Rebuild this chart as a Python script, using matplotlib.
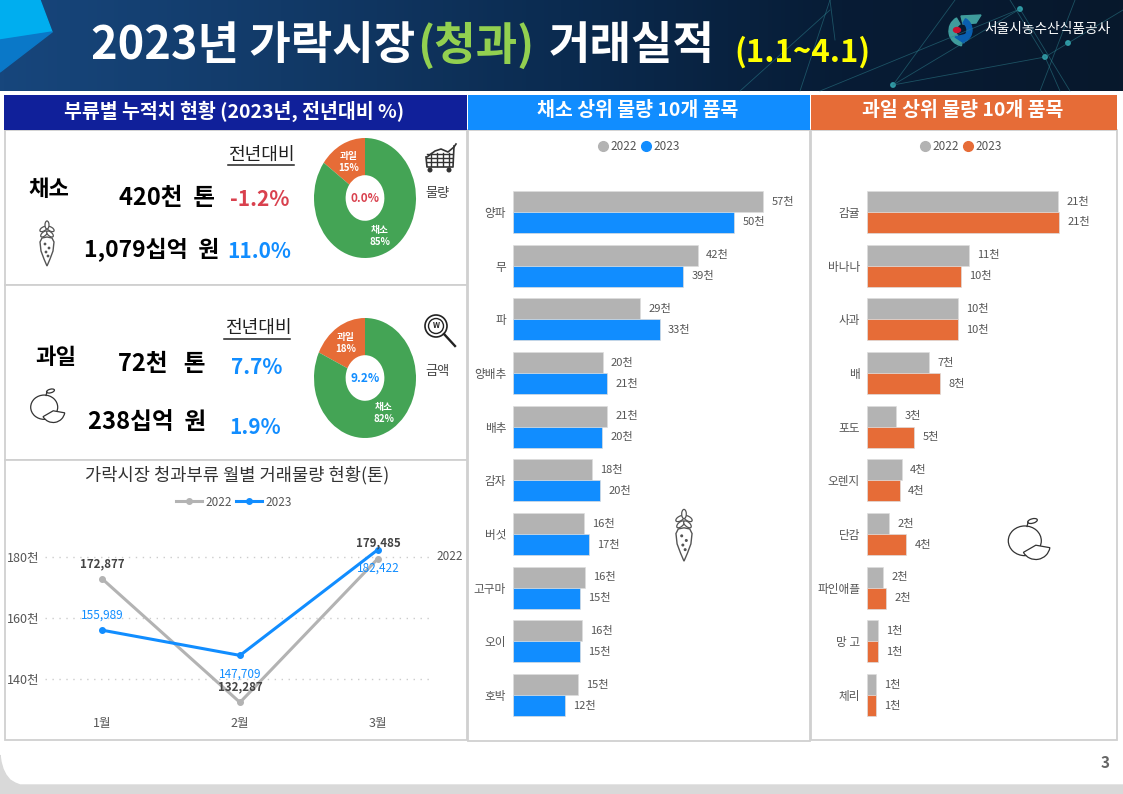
import numpy as np
import matplotlib
matplotlib.use("Agg")
import matplotlib.pyplot as plt
from matplotlib.colors import LinearSegmentedColormap
from matplotlib.lines import Line2D
from matplotlib.patches import Circle, Ellipse, Polygon, Rectangle, Wedge

plt.rcParams['font.family'] = ['Noto Sans CJK KR', 'DejaVu Sans']

# bar data (thousand tons)
veg_names = ["양파", "무", "파", "양배추", "배추", "감자", "버섯", "고구마", "오이", "호박"]
veg_2022 = [57.0, 42.1, 28.9, 20.4, 21.4, 18.0, 16.2, 16.4, 15.7, 14.8]
veg_2023 = [50.3, 38.7, 33.4, 21.4, 20.3, 19.8, 17.3, 15.3, 15.3, 11.8]

fruit_names = ["감귤", "바나나", "사과", "배", "포도", "오렌지", "단감", "파인애플", "망 고", "체리"]
fruit_2022 = [21.0, 11.2, 10.0, 6.8, 3.2, 3.8, 2.4, 1.8, 1.2, 1.0]
fruit_2023 = [21.1, 10.3, 10.0, 8.0, 5.2, 3.6, 4.3, 2.1, 1.2, 1.0]

# monthly volume (tons)
months = ["1월", "2월", "3월"]
line_2022 = [172877, 132287, 179485]
line_2023 = [155989, 147709, 182422]
y_ticks = [140000, 160000, 180000]

# donut shares
donut_labels = ["과일", "채소"]
volume_share = [15, 85]
amount_share = [18, 82]

GRAY = "#b3b3b3"
BLUE = "#118dff"
ORANGE = "#e66c37"
GREEN = "#44a455"
RED = "#d9414e"
NAVY = "#10209a"
TXT = "#555555"

W, H = 1123, 794
fig = plt.figure(figsize=(W / 100, H / 100), dpi=100, facecolor="white")


def px_axes(left, top, right, bottom):
    # axes placed by pixel box, y counted from the top of the image
    ax = fig.add_axes([left / W, 1 - bottom / H, (right - left) / W, (bottom - top) / H])
    ax.patch.set_alpha(0)
    return ax


bg = fig.add_axes([0, 0, 1, 1], zorder=0)
bg.set_axis_off()

# header band
header_cm = LinearSegmentedColormap.from_list("hdr", ["#17467c", "#123a68", "#0b2b50", "#071c35", "#08182c"])
bg.imshow(np.linspace(0, 1, 256).reshape(1, -1), extent=[0, W, 91, 0], cmap=header_cm, aspect="auto")
bg.set_xlim(0, W)
bg.set_ylim(H, 0)

# network lines behind the logo
net = [((893, 85), (1045, 57)), ((893, 85), (1020, 9)), ((893, 85), (955, 0)), ((1045, 57), (1123, 10)),
       ((1045, 57), (1010, 0)), ((1045, 57), (1060, 91)), ((820, 91), (1020, 9)), ((1020, 9), (1070, 91)),
       ((830, 0), (800, 91)), ((1075, 0), (1040, 91)), ((830, 0), (835, 40)), ((740, 91), (830, 10))]
for a, b in net:
    bg.add_line(Line2D([a[0], b[0]], [a[1], b[1]], color="#2d7f8c", lw=0.6, alpha=0.55))
for x, y in [(893, 85), (1045, 57), (1020, 9), (1068, 43)]:
    bg.add_patch(Circle((x, y), 2.2, color="#2f9aa5"))

# corner shapes
bg.add_patch(Polygon([(0, 0), (40, 0), (52, 32), (0, 40)], color="#00aeef"))
bg.add_patch(Polygon([(0, 40), (52, 32), (0, 72)], color="#0a78c8"))

# title
tkw = dict(va="center", ha="left", fontweight="bold", fontsize=32.5)
bg.text(91, 46, "2023년 가락시장", color="white", **tkw)
bg.text(417, 46, "(청과)", color="#92d050", **tkw)
bg.text(549, 46, "거래실적", color="white", **tkw)
bg.text(734, 52, "(1.1~4.1)", color="#ffff00", va="center", ha="left", fontweight="bold", fontsize=22.5)

# logo
bg.add_patch(Wedge((964, 31), 15, 100, 240, width=7, color="#3f9c9c"))
bg.add_patch(Polygon([(961, 16), (981, 15), (976, 23), (963, 24)], color="#3f9c9c"))
bg.add_patch(Wedge((959, 30), 13, 300, 60, width=5, color="#0a5fb0"))
bg.add_patch(Polygon([(955, 37), (968, 34), (964, 43)], color="#0a5fb0"))
bg.add_patch(Ellipse((957, 30), 7, 5, color="#c8102e"))
bg.text(984, 29, "서울시농수산식품공사", color="white", fontsize=9.9, va="center", ha="left")

# bottom strip with the rounded white corner
curve_x = [0, 1, 3, 6, 10, 15, 20, 27, 40]
curve_y = [755, 762, 769, 775, 780, 783, 785, 785, 785]
bg.add_patch(Polygon(list(zip(curve_x, curve_y)) + [(W, 785), (W, H), (0, H)], color="#d9d9d9"))
bg.text(1105, 763, "3", color="#666666", fontsize=11, fontweight="bold", ha="center", va="center")

# panels
for l, t, r, b in [(5, 130, 467, 285), (5, 285, 467, 460), (5, 460, 467, 740),
                   (468, 130, 810, 741), (811, 130, 1117, 740)]:
    bg.add_patch(Rectangle((l, t), r - l, b - t, fc="white", ec="#d0d0d0", lw=1.3))
for l, r, c, s, fs in [(4, 467, NAVY, "부류별 누적치 현황 (2023년, 전년대비 %)", 14),
                       (468, 810, BLUE, "채소 상위 물량 10개 품목", 14),
                       (811, 1117, ORANGE, "과일 상위 물량 10개 품목", 14)]:
    bg.add_patch(Rectangle((l, 95), r - l, 35, fc=c, ec="none"))
    bg.text((l + r) / 2 - 1, 111, s, color="white", fontsize=fs, fontweight="bold", ha="center", va="center")


def carrot(cx, cy, s=1.0):
    ec = "#555555"
    for dx, dy, ang in [(-3.5, -16, 60), (3.5, -16, -60), (-3, -11, 50), (3, -11, -50), (0, -20, 0)]:
        bg.add_patch(Ellipse((cx + dx * s, cy + dy * s), 4 * s, 8 * s, angle=ang, fc="white", ec=ec, lw=0.9))
    xs = np.array([-7, -5, 0, 5, 7, 6, 3, 0, -3, -6])
    ys = np.array([-3, -7, -8, -7, -3, 6, 14, 21, 14, 6])
    bg.add_patch(Polygon(np.c_[cx + xs * s, cy + ys * s], fc="white", ec=ec, lw=1.0))
    for dx, dy in [(-2, -1), (2, 3), (-1, 7), (1, 11)]:
        bg.add_patch(Circle((cx + dx * s, cy + dy * s), 0.7 * s, color=ec))


def apple(cx, cy, s=1.0):
    ec = "#333333"
    bg.add_patch(Ellipse((cx - 2 * s, cy - 2 * s), 30 * s, 27 * s, fc="white", ec=ec, lw=0.9))
    bg.add_patch(Wedge((cx + 8 * s, cy + 2 * s), 13 * s, 10, 150, fc="white", ec=ec, lw=0.9))
    bg.add_line(Line2D([cx, cx + 1 * s], [cy - 15 * s, cy - 19 * s], color=ec, lw=0.9))
    bg.add_patch(Ellipse((cx + 5 * s, cy - 20 * s), 9 * s, 4 * s, angle=-15, fc="white", ec=ec, lw=0.9))


def cart(cx, cy):
    ec = "#333333"
    for dy in (-4, 0, 4):
        bg.add_line(Line2D([cx - 13, cx + 12], [cy + dy, cy + dy], color=ec, lw=1))
    for dx in (-9, -3, 3, 9):
        bg.add_line(Line2D([cx + dx, cx + dx], [cy - 5, cy + 8], color=ec, lw=1))
    bg.add_line(Line2D([cx - 13, cx - 5, cx + 1, cx + 8, cx + 14, cx + 16],
                       [cy - 1, cy - 7, cy - 9, cy - 6, cy - 11, cy - 14], color=ec, lw=1.2))
    bg.add_line(Line2D([cx + 14, cx + 13, cx - 13, cx - 14], [cy - 12, cy + 9, cy + 9, cy - 1], color=ec, lw=1.2))
    for dx in (-10, 9):
        bg.add_patch(Circle((cx + dx, cy + 12), 1.8, color=ec))


def loupe(cx, cy):
    ec = "#222222"
    bg.add_patch(Circle((cx - 5, cy - 5), 11, fc="white", ec=ec, lw=1.2))
    bg.add_patch(Circle((cx - 5, cy - 5), 7.5, fc="white", ec=ec, lw=1.0))
    bg.text(cx - 5, cy - 5, "W", fontsize=5.5, fontweight="bold", ha="center", va="center", color=ec)
    bg.add_line(Line2D([cx + 3, cx + 14], [cy + 3, cy + 15], color=ec, lw=1.7))


carrot(47, 245, 1.0)
apple(46, 409, 0.9)
carrot(684, 537, 1.15)
apple(1027, 543, 1.1)
cart(440, 158)
loupe(441, 331)


def big(x, y, s, color="black", ha="center", fs=17):
    bg.text(x, y, s, color=color, fontsize=fs, fontweight="bold", ha=ha, va="center")


def vs_head(cx, y, x0, x1, yl):
    bg.text(cx, y, "전년대비", color="#222222", fontsize=13, ha="center", va="center")
    bg.add_line(Line2D([x0, x1], [yl, yl], color="#222222", lw=1.1))


# vegetable block
big(49, 190, "채소", fs=16)
big(215, 198, "420천  톤", ha="right")
big(219, 250, "1,079십억  원", ha="right", fs=16.5)
big(230, 200, "-1.2%", color=RED, ha="left", fs=15)
big(227, 252, "11.0%", color=BLUE, ha="left", fs=15)
vs_head(261, 155, 228, 294, 165)
# fruit block
big(56, 357, "과일", fs=16)
big(205, 364, "72천   톤", ha="right")
big(206, 422, "238십억  원", ha="right")
big(231, 368, "7.7%", color=BLUE, ha="left", fs=15)
big(229, 427, "1.9%", color=BLUE, ha="left", fs=15)
vs_head(258, 328, 224, 290, 339)

bg.text(437, 194, "물량", color="#444444", fontsize=9.5, ha="center", va="center")
bg.text(437, 372, "금액", color="#444444", fontsize=9.5, ha="center", va="center")


def donut(top, shares, center_txt, center_col, fruit_xy, veg_xy):
    ax = px_axes(314, top, 416, top + 120)
    ax.pie(shares, colors=[ORANGE, GREEN], startangle=90, radius=1.0, wedgeprops=dict(width=0.62))
    ax.set_aspect("auto")
    ax.set_xlim(-1, 1)
    ax.set_ylim(-1, 1)
    mid = top + 60
    ax.text(365, mid, center_txt, color=center_col, fontsize=8.5, fontweight="bold", ha="center", va="center",
            transform=bg.transData)
    for (x, y), name, share in zip((fruit_xy, veg_xy), donut_labels, shares):
        ax.text(x, y, f"{name}\n{share}%", color="white", fontsize=7, fontweight="bold", ha="center", va="center",
                linespacing=1.25, transform=bg.transData)


donut(138, volume_share, "0.0%", RED, (349, 162), (380, 236))
donut(318, amount_share, "9.2%", BLUE, (346, 343), (384, 413))


# line chart
bg.text(237, 475, "가락시장 청과부류 월별 거래물량 현황(톤)", color="#333333", fontsize=12.7, fontweight="medium",
        ha="center", va="center")
ax = px_axes(45, 510, 430, 710)
xs = np.arange(len(months))
ax.plot(xs, line_2022, color=GRAY, lw=2.2, marker="o", ms=4, label="2022")
ax.plot(xs, line_2023, color=BLUE, lw=2.2, marker="o", ms=4, label="2023")
ax.set_xlim(-0.413, 2.377)
ax.set_ylim(129800, 195400)
ax.set_yticks(y_ticks, [f"{v // 1000}천" for v in y_ticks])
ax.set_xticks(xs, months)
ax.tick_params(length=0, labelcolor=TXT, labelsize=9)
ax.tick_params(axis="x", pad=5)
ax.tick_params(axis="y", pad=4)
ax.grid(axis="y", color="#cccccc", ls=(0, (1, 4)), lw=1)
ax.set_axisbelow(True)
for sp in ax.spines.values():
    sp.set_visible(False)
off_2022 = [15, 16, 16]
off_2023 = [15, -19, -19]
for x, v, o in zip(xs, line_2022, off_2022):
    ax.annotate(f"{v:,}", (x, v), xytext=(0, o * 0.72), textcoords="offset points", ha="center", va="center",
                color="#444444", fontsize=8.3, fontweight="bold")
for x, v, o in zip(xs, line_2023, off_2023):
    ax.annotate(f"{v:,}", (x, v), xytext=(0, o * 0.72), textcoords="offset points", ha="center", va="center",
                color=BLUE, fontsize=8.5, fontweight="medium")
bg.text(450, 556, "2022", color=TXT, fontsize=8.5, ha="center", va="center")
ax.legend(handles=ax.get_lines(), loc="center", bbox_to_anchor=((234 - 45) / 385, (710 - 502) / 200), ncols=2,
          frameon=False, fontsize=8.5, labelcolor=TXT, handlelength=2.2, handletextpad=0.3, columnspacing=0.4,
          borderpad=0)


def hbar(left, right, x_max, names, v22, v23, col, leg_x):
    ax = px_axes(left, 180, right, 730)
    ys = np.arange(len(names))
    b1 = ax.barh(ys - 0.195, v22, 0.39, color=GRAY, ec="#dddddd", lw=0.5)
    b2 = ax.barh(ys + 0.195, v23, 0.39, color=col, ec="#dddddd", lw=0.5)
    ax.bar_label(b1, labels=[f"{round(v)}천" for v in v22], padding=6, fontsize=8, color=TXT)
    ax.bar_label(b2, labels=[f"{round(v)}천" for v in v23], padding=6, fontsize=8, color=TXT)
    ax.set_xlim(0, x_max)
    ax.set_ylim(9.65, -0.596)
    ax.set_xticks([])
    ax.set_yticks(ys, names)
    ax.tick_params(length=0, labelsize=8.4, labelcolor=TXT, pad=5)
    for sp in ax.spines.values():
        sp.set_visible(False)
    handles = [Line2D([], [], ls="", marker="o", ms=7, color=GRAY, label="2022"),
               Line2D([], [], ls="", marker="o", ms=7, color=col, label="2023")]
    fig.legend(handles=handles, loc="center", bbox_to_anchor=(leg_x / W, 1 - 147 / H), ncols=2, frameon=False,
               fontsize=8.5, labelcolor=TXT, handlelength=0.8, handletextpad=0.2, columnspacing=0.4, borderpad=0)


hbar(513, 795, 64.2, veg_names, veg_2022, veg_2023, BLUE, 639)
hbar(867, 1110, 26.7, fruit_names, fruit_2022, fruit_2023, ORANGE, 961)

fig.savefig("out.png", dpi=100)
